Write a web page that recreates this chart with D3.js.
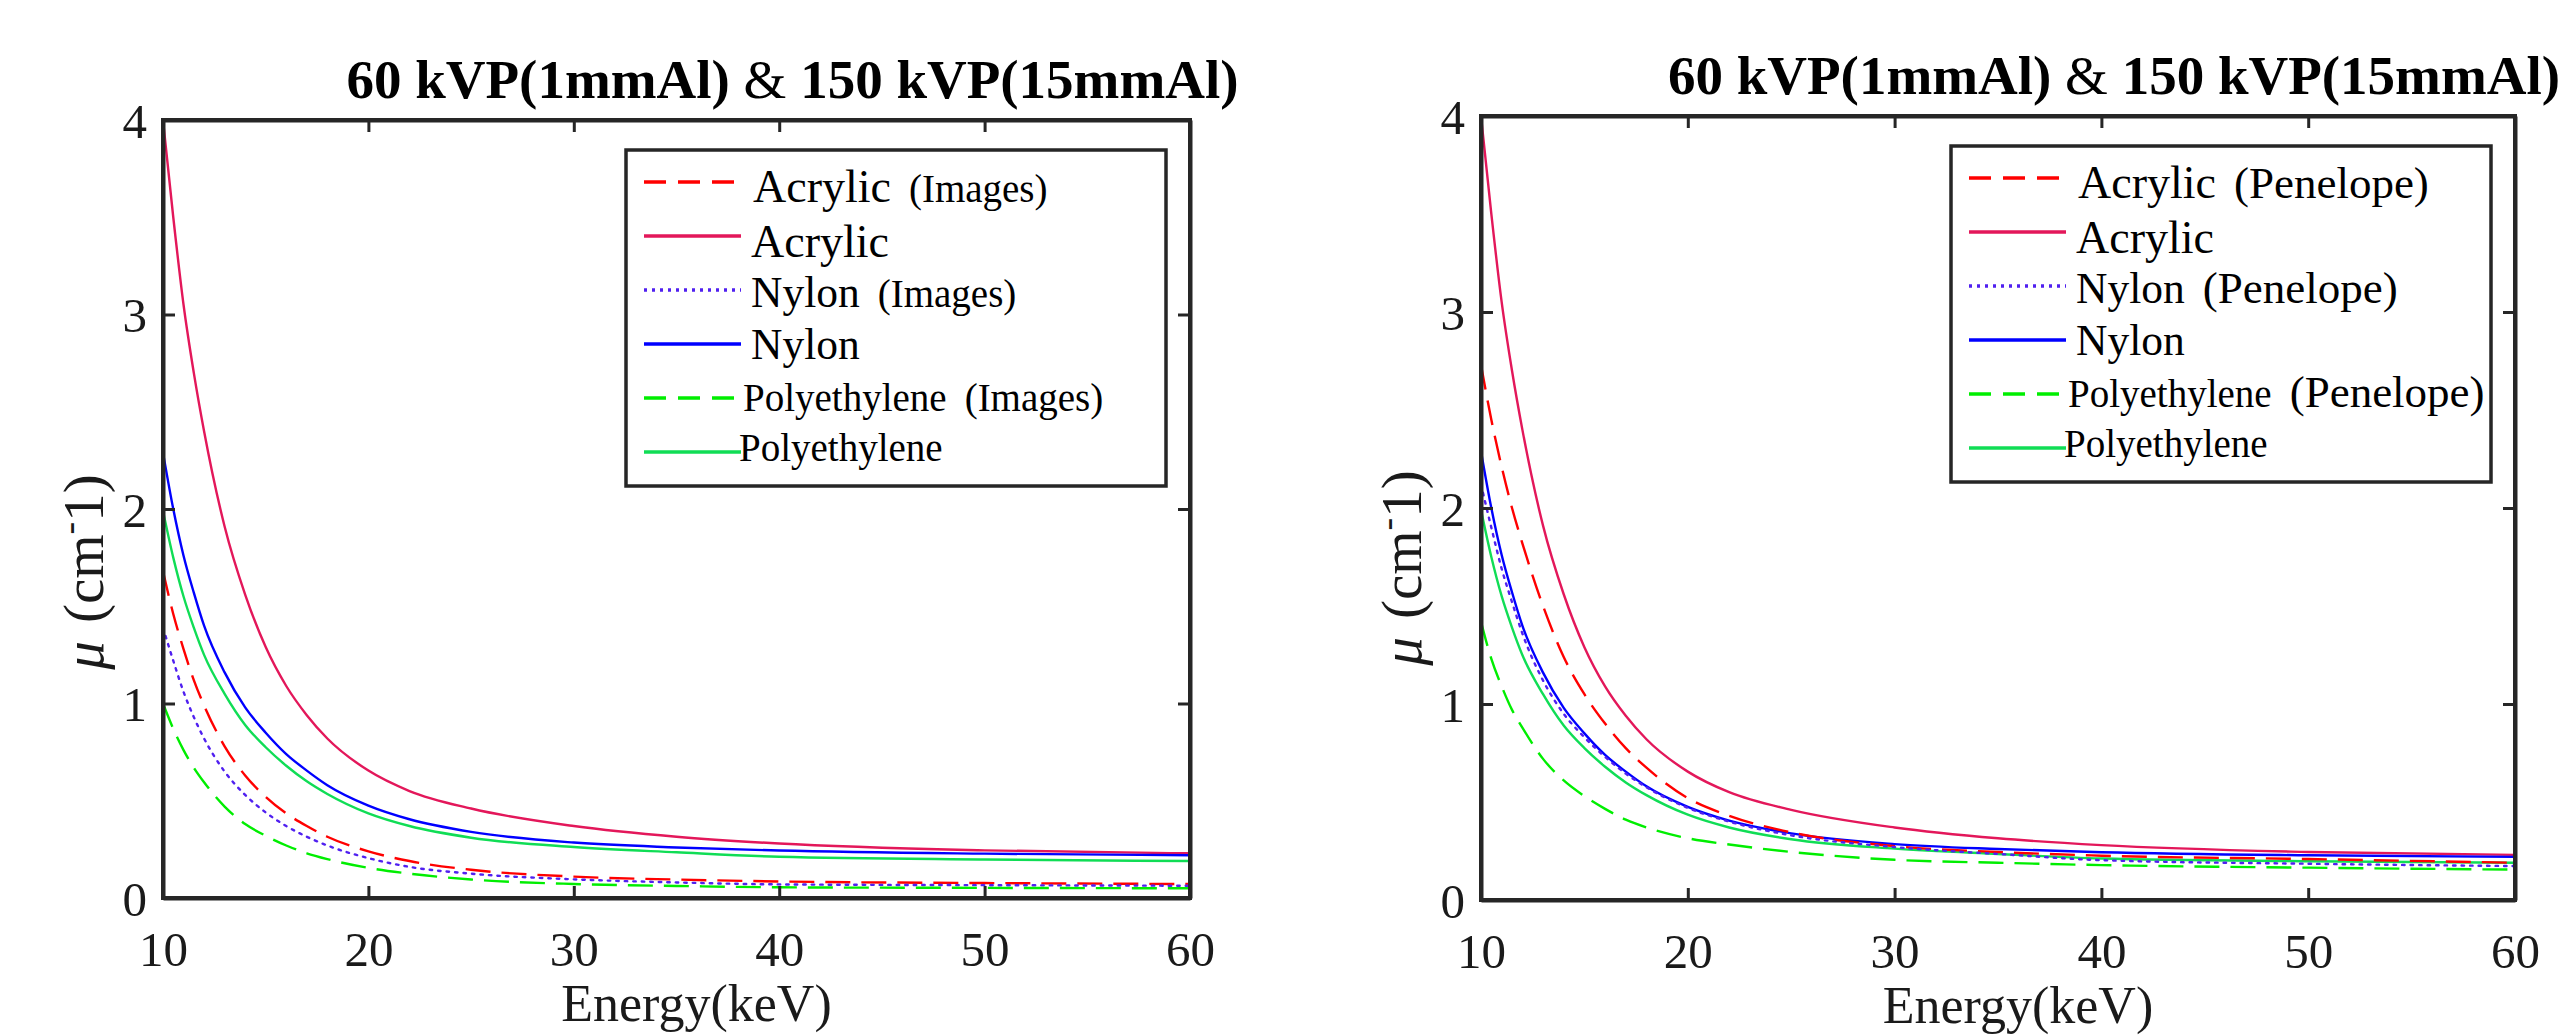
<!DOCTYPE html>
<html>
<head>
<meta charset="utf-8">
<script src="https://cdn.jsdelivr.net/npm/d3@7"></script>
<style>
  html, body { margin: 0; padding: 0; background: #ffffff; }
  svg { display: block; }
</style>
</head>
<body>
<svg id="chart" width="2561" height="1036"></svg>
<script>
// ---------------- DATA ----------------
const energy = [10, 10.5, 11, 11.5, 12, 13, 14, 15, 16, 17, 18, 20, 22, 25, 30, 35, 40, 50, 60];

// theoretical curves (solid), same in both panels
const acrylicTheory = [4.00, 3.50, 3.05, 2.70, 2.40, 1.91, 1.56, 1.29, 1.09, 0.94, 0.82, 0.655, 0.55, 0.46, 0.37, 0.315, 0.28, 0.245, 0.23];
const nylonTheory   = [2.29, 2.00, 1.76, 1.57, 1.40, 1.16, 0.98, 0.85, 0.74, 0.655, 0.58, 0.475, 0.405, 0.34, 0.285, 0.26, 0.244, 0.228, 0.22];
const polyTheory    = [1.99, 1.75, 1.55, 1.39, 1.25, 1.05, 0.89, 0.775, 0.68, 0.60, 0.535, 0.435, 0.37, 0.31, 0.262, 0.235, 0.212, 0.198, 0.19];

// left panel: from images
const acrylicImages = [1.68, 1.46, 1.28, 1.12, 0.99, 0.78, 0.63, 0.52, 0.435, 0.37, 0.315, 0.24, 0.19, 0.145, 0.11, 0.095, 0.085, 0.077, 0.072];
const nylonImages   = [1.39, 1.22, 1.06, 0.93, 0.82, 0.65, 0.53, 0.44, 0.37, 0.315, 0.27, 0.205, 0.16, 0.125, 0.096, 0.08, 0.07, 0.066, 0.063];
const polyImages    = [1.00, 0.87, 0.76, 0.67, 0.595, 0.47, 0.38, 0.32, 0.27, 0.23, 0.20, 0.155, 0.125, 0.095, 0.072, 0.062, 0.055, 0.052, 0.05];

// right panel: from Penelope
const acrylicPenelope = [2.73, 2.45, 2.21, 2.00, 1.82, 1.50, 1.24, 1.05, 0.90, 0.775, 0.675, 0.52, 0.43, 0.345, 0.275, 0.245, 0.226, 0.209, 0.19];
const nylonPenelope   = [2.12, 1.90, 1.69, 1.52, 1.36, 1.12, 0.95, 0.83, 0.73, 0.645, 0.575, 0.47, 0.40, 0.33, 0.27, 0.235, 0.203, 0.185, 0.173];
const polyPenelope    = [1.42, 1.23, 1.09, 0.97, 0.88, 0.72, 0.61, 0.53, 0.465, 0.41, 0.37, 0.315, 0.283, 0.245, 0.205, 0.19, 0.178, 0.165, 0.155];

const xTicks = [10, 20, 30, 40, 50, 60];
const yTicks = [0, 1, 2, 3, 4];
const titleParts = ["60 kVP(1mmAl) ", "&", " 150 kVP(15mmAl)"];
const xLabel = "Energy(keV)";
const materials = ["Acrylic", "Nylon", "Polyethylene"];
const sourceLeft = "(Images)";
const sourceRight = "(Penelope)";

// ---------------- STYLES ----------------
const serif = "'Liberation Serif', 'Times New Roman', Times, serif";
const axisColor = "#262626";
const seriesStyle = [
  { color: "#ff0000", dash: "25,11" },   // measured acrylic
  { color: "#e3175a", dash: null },      // theory acrylic
  { color: "#5020f0", dash: "2.5,6" },   // measured nylon
  { color: "#0000ff", dash: null },      // theory nylon
  { color: "#00ee00", dash: "25,11" },   // measured poly
  { color: "#10dd55", dash: null }       // theory poly
];
const legendDash = ["22,12", null, "3,5", null, "22,12", null];
const nameSize = [46, 46, 43.5, 43.5, 39, 39];
const textDx = [127, 125, 125, 125, 117, 113];
const baseOff = [20, 21, 17, 15, 13, 9];

const svg = d3.select("#chart");

function panel(geom, measured, suffix, suffixSize) {
  const { x0, x1, y0, y1 } = geom;
  const x = d3.scaleLinear().domain([10, 60]).range([x0, x1]);
  const y = d3.scaleLinear().domain([0, 4]).range([y1, y0]);
  const g = svg.append("g");
  const clipId = "clip" + x0;
  svg.append("defs").append("clipPath").attr("id", clipId)
    .append("rect").attr("x", x0).attr("y", y0 - 2).attr("width", x1 - x0).attr("height", y1 - y0 + 2);

  const series = [
    measured[0], acrylicTheory,
    measured[1], nylonTheory,
    measured[2], polyTheory
  ];
  const line = d3.line()
    .x((d, i) => x(energy[i]))
    .y(d => y(d))
    .curve(d3.curveMonotoneX);
  const lines = g.append("g").attr("clip-path", `url(#${clipId})`);
  [1, 3, 5, 0, 2, 4].forEach(k => {
    lines.append("path")
      .datum(series[k])
      .attr("d", line)
      .attr("fill", "none")
      .attr("stroke", seriesStyle[k].color)
      .attr("stroke-width", 2.4)
      .attr("stroke-dasharray", seriesStyle[k].dash)
      .attr("stroke-linecap", k === 2 ? "round" : "butt");
  });

  // axes
  const tickLen = -12;
  const ax = d3.axisBottom(x).tickValues(xTicks).tickSize(tickLen).tickSizeOuter(0).tickPadding(0).tickFormat(d3.format("d"));
  const axT = d3.axisTop(x).tickValues(xTicks).tickSize(tickLen).tickSizeOuter(0).tickFormat("");
  const ay = d3.axisLeft(y).tickValues(yTicks).tickSize(tickLen).tickSizeOuter(0).tickPadding(16).tickFormat(d3.format("d"));
  const ayR = d3.axisRight(y).tickValues(yTicks).tickSize(tickLen).tickSizeOuter(0).tickFormat("");

  const gb = g.append("g").attr("transform", `translate(0,${y1})`).call(ax);
  const gt = g.append("g").attr("transform", `translate(0,${y0})`).call(axT);
  const gl = g.append("g").attr("transform", `translate(${x0},0)`).call(ay);
  const gr = g.append("g").attr("transform", `translate(${x1},0)`).call(ayR);
  [gb, gt, gl, gr].forEach(a => {
    a.select(".domain").attr("stroke", axisColor).attr("stroke-width", 4);
    a.selectAll(".tick line").attr("stroke", axisColor).attr("stroke-width", 3);
    a.selectAll(".tick text")
      .attr("fill", "#1a1a1a")
      .style("font-family", serif)
      .style("font-size", "49px");
  });
  gb.selectAll(".tick text").attr("y", 0).attr("dy", 0).attr("transform", "translate(0,68)");
  gl.selectAll(".tick text").attr("dy", "0.35em");
  gb.selectAll(".tick").filter(d => d === 10 || d === 60).select("line").remove();
  gt.selectAll(".tick").filter(d => d === 10 || d === 60).remove();
  gl.selectAll(".tick").filter(d => d === 0 || d === 4).select("line").remove();
  gr.selectAll(".tick").filter(d => d === 0 || d === 4).remove();

  // frame
  g.append("rect").attr("x", x0).attr("y", y0).attr("width", x1 - x0).attr("height", y1 - y0)
    .attr("fill", "none").attr("stroke", axisColor).attr("stroke-width", 4);

  // title
  const cx = (x0 + x1) / 2;
  const t = g.append("text")
    .attr("x", cx + 116).attr("y", y0 - 22)
    .attr("text-anchor", "middle")
    .style("font-family", serif).style("font-size", "55px").style("font-weight", "bold")
    .attr("fill", "#000");
  t.append("tspan").text(titleParts[0]);
  t.append("tspan").style("font-weight", "normal").text(titleParts[1]);
  t.append("tspan").text(titleParts[2]);

  // x label
  g.append("text")
    .attr("x", cx + 20).attr("y", y1 + 123)
    .attr("text-anchor", "middle")
    .style("font-family", serif).style("font-size", "52px")
    .attr("fill", "#1a1a1a")
    .text(xLabel);

  // y label
  const ly = g.append("text")
    .attr("transform", `translate(${x0 - 60},${y0 + 452}) rotate(-90)`)
    .attr("text-anchor", "middle")
    .style("font-family", serif).style("font-size", "57px")
    .attr("fill", "#1a1a1a");
  ly.append("tspan").style("font-style", "italic").text("\u03bc");
  ly.append("tspan").attr("dx", 18).text("(cm");
  ly.append("tspan").attr("dy", -21).style("font-size", "38px").text("-");
  ly.append("tspan").attr("dy", 21).text("1)");

  // legend
  const lx = x1 - 24 - 540, lyTop = y0 + 30, lh = 336;
  const lg = g.append("g");
  lg.append("rect").attr("x", lx).attr("y", lyTop).attr("width", 540).attr("height", lh)
    .attr("fill", "#fff").attr("stroke", axisColor).attr("stroke-width", 3.5);
  for (let i = 0; i < 6; i++) {
    const rowY = lyTop + 32 + 54 * i;
    lg.append("line")
      .attr("x1", lx + 18).attr("x2", lx + 115)
      .attr("y1", rowY).attr("y2", rowY)
      .attr("stroke", seriesStyle[i].color)
      .attr("stroke-width", 3.5)
      .attr("stroke-dasharray", legendDash[i]);
    const tx = lg.append("text")
      .attr("x", lx + textDx[i]).attr("y", rowY + baseOff[i])
      .style("font-family", serif)
      .attr("fill", "#000");
    tx.append("tspan").style("font-size", nameSize[i] + "px").text(materials[Math.floor(i / 2)]);
    if (i % 2 === 0) {
      tx.append("tspan").attr("dx", 18).style("font-size", suffixSize + "px").text(suffix);
    }
  }
}

panel({ x0: 163, x1: 1190, y0: 120, y1: 898 }, [acrylicImages, nylonImages, polyImages], sourceLeft, 39);
panel({ x0: 1481, x1: 2515, y0: 116, y1: 900 }, [acrylicPenelope, nylonPenelope, polyPenelope], sourceRight, 45);
</script>
</body>
</html>
